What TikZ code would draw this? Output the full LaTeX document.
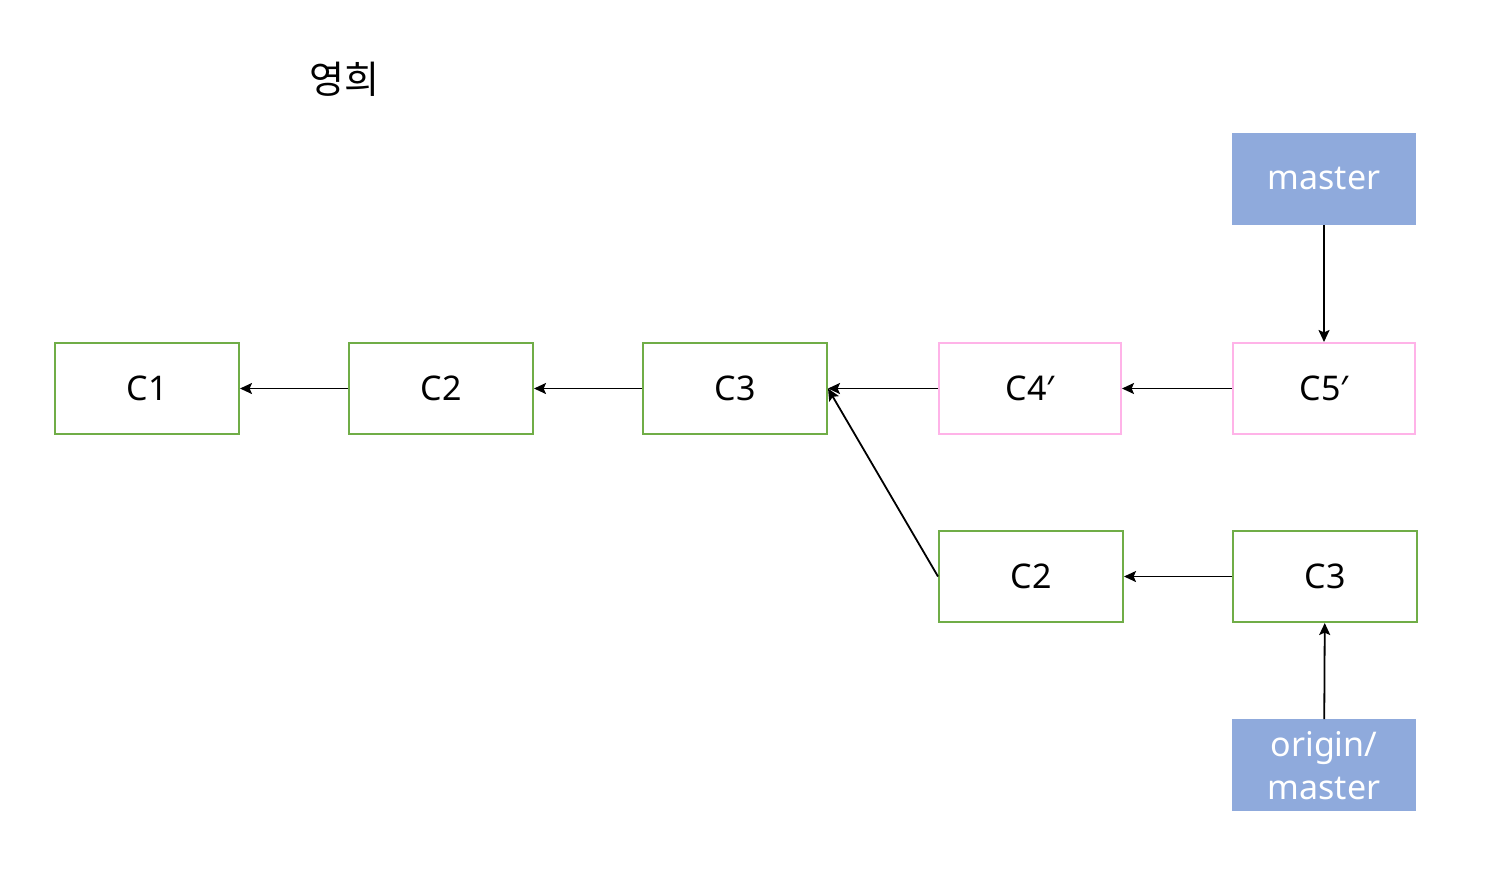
\documentclass[tikz,border=0pt]{standalone}
\usepackage{fontspec}
\setmainfont{Noto Sans}
\newfontfamily\krfont{Noto Sans CJK KR}
\usepackage{tikz}
\usetikzlibrary{shapes,arrows,arrows.meta,positioning,calc}
\definecolor{commitGreen}{HTML}{70AD47}
\definecolor{rebasePink}{HTML}{FFB3E8}
\definecolor{branchBlue}{HTML}{8FAADC}

\begin{document}
\begin{tikzpicture}[
            x=0.5pt, y=-0.5pt,
            node distance=54pt,
            commit/.style={
                    rectangle,
                    draw=commitGreen,
                    line width=1pt,
                    minimum width=92pt,
                    minimum height=45.5pt,
                    align=center,
                    font=\fontsize{17}{20}\selectfont
                },
            rebased/.style={
                    commit,
                    draw=rebasePink,
                    minimum width=91pt
                },
            branch/.style={
                    rectangle,
                    fill=branchBlue,
                    text=white,
                    minimum width=92pt,
                    minimum height=46pt,
                    inner sep=0pt,
                    align=center,
                    font=\fontsize{17}{21.5}\selectfont
                },
            arrow/.style={-{Stealth[length=6pt,width=5.5pt,inset=1.2pt]}, line width=0.9pt}
        ]
        \useasboundingbox (0,0) rectangle (1504,884);

        \node[font=\fontsize{19}{22}\selectfont\krfont] (title) at (344,79) {영희};

        \node[commit] (c1) at (147,388.5) {C1};
        \node[commit, right=of c1] (c2) {C2};
        \node[commit, right=of c2] (c3) {C3};
        \node[rebased, right=55pt of c3] (c4) {C4′};
        \node[rebased, right=55pt of c4] (c5) {C5′};
        \node[commit, below=47.5pt of c4, xshift=0.5pt] (rc2) {C2};
        \node[commit, right=of rc2] (rc3) {C3};
        \node[branch, above=58.5pt of c5] (master) {master};
        \node[branch, below=48pt of rc3, xshift=-0.5pt] (origin) {origin/\\master};

        \draw[arrow] (c2) -- (c1);
        \draw[arrow] (c3) -- (c2);
        \draw[arrow] (c4) -- (c3);
        \draw[arrow] (c5) -- (c4);
        \draw[arrow] (rc2.west) -- (c3.east);
        \draw[arrow] (rc3) -- (rc2);
        \draw[arrow] (master) -- (c5);
        \draw[arrow] (origin) -- (rc3);
    \end{tikzpicture}
\end{document}
